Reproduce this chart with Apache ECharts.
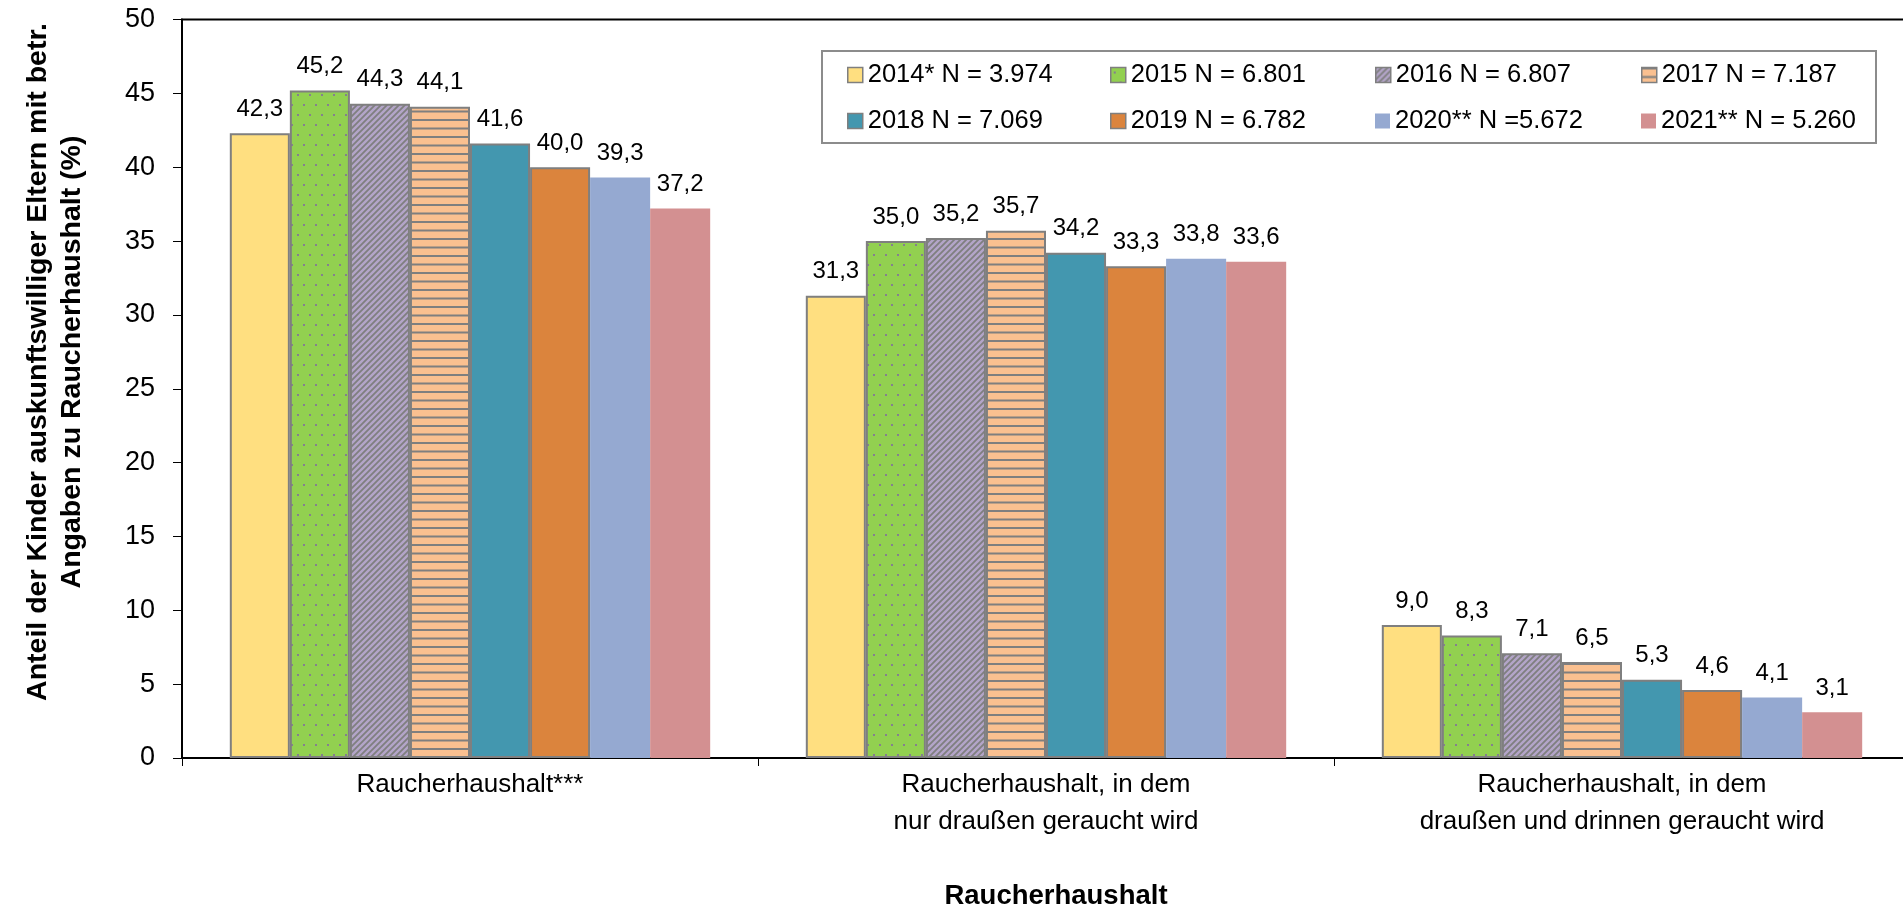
<!DOCTYPE html>
<html>
<head>
<meta charset="utf-8">
<script src="https://cdn.jsdelivr.net/npm/echarts@6/dist/echarts.min.js"></script>
<style>html,body{margin:0;padding:0;background:#fff;}#c{width:1903px;height:907px;}</style>
</head>
<body>
<div id="c"></div>
<script>
const categories = ['Raucherhaushalt***', 'Raucherhaushalt, in dem\nnur draußen geraucht wird', 'Raucherhaushalt, in dem\ndraußen und drinnen geraucht wird'];
const seriesNames = ['2014* N = 3.974', '2015 N = 6.801', '2016 N = 6.807', '2017 N = 7.187', '2018 N = 7.069', '2019 N = 6.782', '2020** N =5.672', '2021** N = 5.260'];
const v2014 = [42.3, 31.3, 9.0];
const v2015 = [45.2, 35.0, 8.3];
const v2016 = [44.3, 35.2, 7.1];
const v2017 = [44.1, 35.7, 6.5];
const v2018 = [41.6, 34.2, 5.3];
const v2019 = [40.0, 33.3, 4.6];
const v2020 = [39.3, 33.8, 4.1];
const v2021 = [37.2, 33.6, 3.1];
const yMin = 0, yMax = 50, yStep = 5;
const xTitle = 'Raucherhaushalt';
const yTitle = 'Anteil der Kinder auskunftswilliger Eltern mit betr.\nAngaben zu Raucherhaushalt (%)';

const FONT = '"Liberation Sans", Arial, Helvetica, sans-serif';

function mk(w, h, draw) {
  const c = document.createElement('canvas');
  c.width = w; c.height = h;
  draw(c.getContext('2d'), w, h);
  return c;
}
const pDots = mk(12, 20, g => {
  g.fillStyle = '#92D050'; g.fillRect(0, 0, 12, 20);
  g.fillStyle = '#857f8f'; g.fillRect(3, 4, 2, 2); g.fillRect(9, 14, 2, 2);
});
const pDiag = mk(6, 6, g => {
  g.fillStyle = '#B3A5C8'; g.fillRect(0, 0, 6, 6);
  g.strokeStyle = '#7f7f7f'; g.lineWidth = 1.8; g.beginPath();
  g.moveTo(-1, 7); g.lineTo(7, -1);
  g.moveTo(-4, 4); g.lineTo(4, -4);
  g.moveTo(2, 10); g.lineTo(10, 2);
  g.stroke();
});
const pHoriz = mk(4, 17, g => {
  g.fillStyle = '#FAC090'; g.fillRect(0, 0, 4, 17);
  g.fillStyle = '#7f7f7f'; g.fillRect(0, 0, 4, 2); g.fillRect(0, 8.5, 4, 2);
});

const values = [v2014, v2015, v2016, v2017, v2018, v2019, v2020, v2021];
const fills = ['#FFDF80', {image: pDots, repeat: 'repeat'}, {image: pDiag, repeat: 'repeat'}, {image: pHoriz, repeat: 'repeat'}, '#4397AF', '#DB843D', '#95A9D1', '#D39091'];
const bordered = [true, true, true, true, true, true, false, false];

const legendCols = [847, 1110, 1375, 1641];
const legendRows = [61, 107];

const chart = echarts.init(document.getElementById('c'), null, {renderer: 'canvas'});

const series = values.map((v, i) => ({
  name: seriesNames[i],
  type: 'bar',
  data: v,
  barGap: '0%',
  barCategoryGap: '16.6%',
  itemStyle: {
    color: fills[i],
    borderColor: bordered[i] ? '#7f7f7f' : 'transparent',
    borderWidth: bordered[i] ? 2 : 0
  },
  label: {
    show: true,
    position: 'top',
    distance: 12,
    color: '#000',
    fontSize: 24,
    fontFamily: FONT,
    formatter: p => p.value.toFixed(1).replace('.', ',')
  },
  emphasis: {disabled: true}
}));

const legends = seriesNames.map((n, i) => ({
  data: [n],
  left: legendCols[i % 4],
  top: legendRows[Math.floor(i / 4)],
  padding: 0,
  itemWidth: 15,
  itemHeight: 15,
  icon: 'rect',
  selectedMode: false,
  textStyle: {color: '#000', fontSize: 25.5, fontFamily: FONT, lineHeight: 28},
  itemStyle: {borderWidth: bordered[i] ? 1.5 : 0, borderColor: '#7f7f7f'}
}));

chart.setOption({
  animation: false,
  backgroundColor: '#fff',
  textStyle: {fontFamily: FONT},
  grid: {
    left: 182, top: 19.5, width: 1728, height: 738.5,
    show: true, borderColor: '#000', borderWidth: 2, backgroundColor: 'transparent',
    containLabel: false, outerBoundsMode: 'none'
  },
  legend: legends,
  xAxis: {
    type: 'category',
    data: categories,
    axisLine: {show: true, lineStyle: {color: '#000', width: 2}},
    axisTick: {show: true, length: 8, alignWithLabel: false, lineStyle: {color: '#000', width: 1}},
    axisLabel: {color: '#000', fontSize: 26, lineHeight: 37, margin: 8, fontFamily: FONT, interval: 0},
    splitLine: {show: false}
  },
  yAxis: {
    type: 'value',
    min: yMin, max: yMax, interval: yStep,
    axisLine: {show: true, lineStyle: {color: '#000', width: 2}},
    axisTick: {show: true, length: 9, inside: false, lineStyle: {color: '#000', width: 1}},
    axisLabel: {color: '#000', fontSize: 27, margin: 27, fontFamily: FONT},
    splitLine: {show: false}
  },
  graphic: [
    {type: 'rect', z: -1, shape: {x: 822, y: 51, width: 1054, height: 92},
     style: {fill: 'none', stroke: '#8c8c8c', lineWidth: 2}},
    {type: 'text', x: 55, y: 362, rotation: Math.PI / 2,
     style: {text: yTitle, align: 'center', verticalAlign: 'middle', fill: '#000',
             fontSize: 28.5, fontWeight: 'bold', fontFamily: FONT, lineHeight: 34}},
    {type: 'text', x: 1056, y: 896,
     style: {text: xTitle, align: 'center', verticalAlign: 'middle', fill: '#000',
             fontSize: 27.5, fontWeight: 'bold', fontFamily: FONT}}
  ],
  series: series
});
</script>
</body>
</html>
